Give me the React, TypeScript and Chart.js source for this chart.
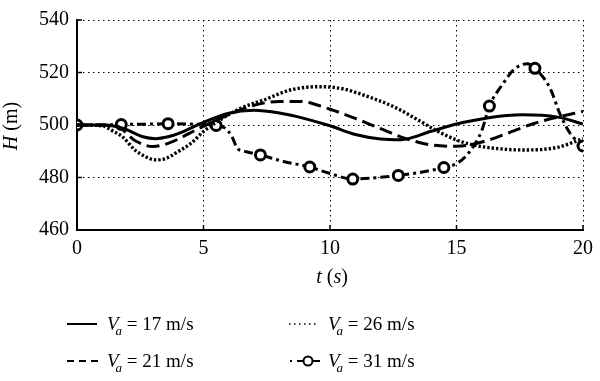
import React, { useEffect, useRef } from "react";
import { Chart, registerables } from "chart.js";

Chart.register(...registerables);

// ---- Data ----
const tickX = [0, 5, 10, 15, 20];
const tickY = [460, 480, 500, 520, 540];

const speeds = ["17", "21", "26", "31"];

const t17 = [0, 1, 1.8, 2.6, 3.1, 3.6, 4, 5, 6, 7, 8, 8.7, 10, 11, 12, 12.8, 14, 15, 16, 17, 17.6, 19, 20];
const h17 = [500, 500, 498.8, 495.5, 494.8, 495.5, 496.7, 501, 504.5, 505.6, 504.6, 503.2, 499.7, 496.4, 494.7, 494.4, 497.6, 500.4, 502.3, 503.6, 503.9, 503.0, 500.4];

const t21 = [0, 1.5, 2.3, 3, 3.6, 4.8, 6, 7, 8, 8.8, 10, 11, 12, 13, 14, 15, 16, 17, 18, 19, 20];
const h21 = [500, 499.8, 494, 491.8, 493, 498.6, 504, 507.5, 509, 509, 506, 502.5, 498.6, 494.8, 492.4, 491.9, 493.5, 496.8, 500.4, 503, 505.2];

const t26 = [0, 1, 1.4, 1.8, 2.3, 2.7, 3.1, 3.5, 3.9, 4.5, 5, 5.5, 6.5, 7.4, 8.5, 9.6, 10.5, 11.3, 12.6, 13.5, 14.2, 15, 15.7, 17, 17.8, 19, 20];
const h26 = [500, 499.7, 497.8, 495.5, 490.4, 488, 486.7, 487.2, 489.3, 493, 497.5, 501, 506.5, 509.6, 513.5, 514.6, 513.8, 511.5, 506.6, 501.8, 497.9, 494.3, 492.3, 490.7, 490.5, 491.5, 494.8];

const t31 = [0, 0.9, 1.75, 2.7, 3.6, 4.6, 5.5, 5.85, 6.1, 6.35, 6.7, 7.25, 8.2, 9.2, 10, 10.9, 11.8, 12.7, 13.6, 14.5, 15, 15.45, 16, 16.3, 16.8, 17.3, 17.8, 18.1, 18.7, 19.1, 19.5, 20];
const h31 = [500, 500, 500.2, 500.3, 500.5, 500.3, 499.8, 498.8, 496, 491, 489.8, 488.6, 486, 484, 481.5, 479.4, 479.9, 480.8, 482, 483.8, 485.3, 489, 497.9, 507.2, 515.2, 521.4, 523.3, 521.6, 514, 504, 496.7, 492];
const marks31 = [0, 1.75, 3.6, 5.5, 7.25, 9.2, 10.9, 12.7, 14.5, 16.3, 18.1, 20];

const FONT = '"Liberation Serif", "Times New Roman", serif';

function pts(ts: number[], hs: number[]) {
  return ts.map((t, i) => ({ x: t, y: hs[i] }));
}

function drawPieces(ctx: CanvasRenderingContext2D, pieces: [string, string][], x: number, y: number, align: "left" | "center") {
  let total = 0;
  for (const [txt, f] of pieces) {
    ctx.font = f;
    total += ctx.measureText(txt).width;
  }
  let cx = align === "center" ? x - total / 2 : x;
  ctx.textAlign = "left";
  for (const [txt, f] of pieces) {
    ctx.font = f;
    ctx.fillText(txt, cx, y);
    cx += ctx.measureText(txt).width;
  }
}

const overlay = {
  id: "overlay",
  afterDraw(chart: any) {
    const ctx: CanvasRenderingContext2D = chart.ctx;
    const xs = chart.scales.x;
    const ys = chart.scales.y;
    const area = chart.chartArea;
    ctx.save();
    ctx.strokeStyle = "#000";
    ctx.fillStyle = "#000";
    // inward tick marks
    ctx.lineWidth = 1.5;
    ctx.setLineDash([]);
    for (const v of tickX) {
      const px = xs.getPixelForValue(v);
      ctx.beginPath();
      ctx.moveTo(px, area.bottom);
      ctx.lineTo(px, area.bottom - 5);
      ctx.stroke();
    }
    for (const v of tickY) {
      const py = ys.getPixelForValue(v);
      ctx.beginPath();
      ctx.moveTo(area.left, py);
      ctx.lineTo(area.left + 5, py);
      ctx.stroke();
    }
    // axis titles
    ctx.textBaseline = "alphabetic";
    const reg = `20px ${FONT}`;
    const ita = `italic 20px ${FONT}`;
    drawPieces(ctx, [["t", ita], [" (", reg], ["s", ita], [")", reg]], (area.left + area.right) / 2 + 2, 283, "center");
    ctx.save();
    ctx.translate(17, (area.top + area.bottom) / 2 + 1);
    ctx.rotate(-Math.PI / 2);
    drawPieces(ctx, [["H", ita], [" (m)", reg]], 0, 0, "center");
    ctx.restore();

    // legend
    const cols = [67, 289];
    const rows = [324, 361];
    const textX = [107, 328];
    const entries = [
      { c: 0, r: 0, kind: "solid", s: speeds[0] },
      { c: 0, r: 1, kind: "dash", s: speeds[1] },
      { c: 1, r: 0, kind: "dot", s: speeds[2] },
      { c: 1, r: 1, kind: "dashdot", s: speeds[3] },
    ];
    for (const e of entries) {
      const x0 = cols[e.c];
      const y = rows[e.r];
      ctx.lineWidth = 2;
      ctx.beginPath();
      if (e.kind === "solid") {
        ctx.setLineDash([]);
        ctx.moveTo(x0, y); ctx.lineTo(x0 + 30, y); ctx.stroke();
      } else if (e.kind === "dash") {
        ctx.setLineDash([7, 5]);
        ctx.moveTo(x0, y); ctx.lineTo(x0 + 31, y); ctx.stroke();
      } else if (e.kind === "dot") {
        ctx.setLineDash([1.5, 3.5]);
        ctx.lineWidth = 1.5;
        ctx.moveTo(x0, y); ctx.lineTo(x0 + 30, y); ctx.stroke();
      } else {
        ctx.setLineDash([]);
        ctx.moveTo(x0 + 1, y); ctx.lineTo(x0 + 3, y);
        ctx.moveTo(x0 + 8, y); ctx.lineTo(x0 + 14, y);
        ctx.moveTo(x0 + 24, y); ctx.lineTo(x0 + 31, y);
        ctx.stroke();
        ctx.beginPath();
        ctx.arc(x0 + 19, y, 4.5, 0, Math.PI * 2);
        ctx.fillStyle = "#fff";
        ctx.fill();
        ctx.stroke();
        ctx.fillStyle = "#000";
      }
      const tx = textX[e.c];
      const base = y + 6;
      ctx.font = `italic 19px ${FONT}`;
      ctx.fillText("V", tx, base);
      const wv = ctx.measureText("V").width;
      ctx.font = `italic 13px ${FONT}`;
      ctx.fillText("a", tx + wv - 3, base + 5);
      const wa = ctx.measureText("a").width;
      ctx.font = `19px ${FONT}`;
      ctx.fillText(" = " + e.s + " m/s", tx + wv - 3 + wa, base);
    }
    ctx.restore();
  },
};

export default function App() {
  const ref = useRef<HTMLCanvasElement>(null);
  useEffect(() => {
    document.body.style.margin = "0";
    const canvas = ref.current!;
    const radius31 = t31.map((t) => (marks31.includes(t) ? 5 : 0));
    const common = {
      borderColor: "#000",
      backgroundColor: "#000",
      fill: false,
      cubicInterpolationMode: "monotone" as const,
      pointRadius: 0,
      pointHoverRadius: 0,
    };
    const chart = new Chart(canvas, {
      type: "line",
      data: {
        datasets: [
          { ...common, label: "Va = " + speeds[0] + " m/s", data: pts(t17, h17), borderWidth: 3 },
          { ...common, label: "Va = " + speeds[1] + " m/s", data: pts(t21, h21), borderWidth: 3, borderDash: [13, 6] },
          { ...common, label: "Va = " + speeds[2] + " m/s", data: pts(t26, h26), borderWidth: 3.4, borderDash: [2.4, 2] },
          {
            ...common,
            label: "Va = " + speeds[3] + " m/s",
            data: pts(t31, h31),
            borderWidth: 3,
            borderDash: [9, 4, 3, 4],
            pointRadius: radius31,
            pointHoverRadius: radius31,
            pointBackgroundColor: "#fff",
            pointBorderColor: "#000",
            pointBorderWidth: 3,
          },
        ],
      },
      options: {
        responsive: false,
        animation: false,
        events: [],
        layout: { padding: { left: 0, right: 10, top: 14, bottom: 101 } },
        plugins: { legend: { display: false }, tooltip: { enabled: false } },
        scales: {
          x: {
            type: "linear",
            min: 0,
            max: 20,
            afterBuildTicks: (s: any) => {
              s.ticks = tickX.map((v) => ({ value: v }));
            },
            afterFit: (s: any) => {
              s.height = 50;
            },
            grid: { color: "#000", lineWidth: 1, drawTicks: false },
            border: { display: true, color: "#000", width: 2, dash: [1.5, 3.5] },
            ticks: { padding: 7, color: "#000", maxRotation: 0, font: { family: FONT, size: 20 } },
          },
          y: {
            type: "linear",
            min: 460,
            max: 540,
            afterBuildTicks: (s: any) => {
              s.ticks = tickY.map((v) => ({ value: v }));
            },
            afterFit: (s: any) => {
              s.width = 77;
            },
            grid: { color: "#000", lineWidth: 1, drawTicks: false },
            border: { display: true, color: "#000", width: 2, dash: [1.5, 3.5] },
            ticks: { padding: 8, color: "#000", font: { family: FONT, size: 20 } },
          },
        },
      },
      plugins: [overlay],
    });
    return () => chart.destroy();
  }, []);
  return (
    <div style={{ width: 600, height: 381, background: "#fff" }}>
      <canvas ref={ref} width={600} height={381} style={{ display: "block" }} />
    </div>
  );
}
